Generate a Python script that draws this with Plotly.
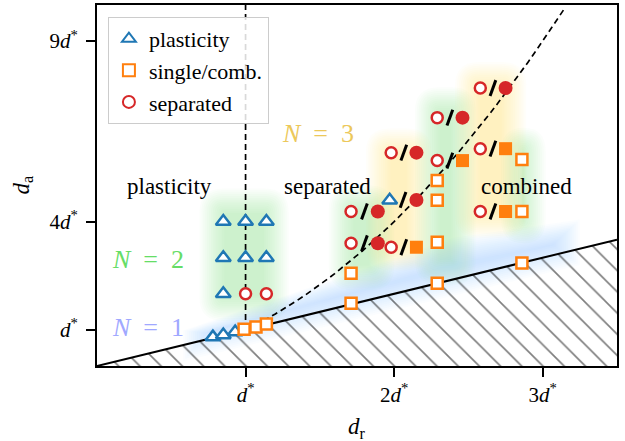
import plotly.graph_objects as go

# ---------------- data ----------------
# plasticity (open triangles)
plast_x = [0.85, 1.00, 1.14, 0.85, 1.00, 1.14, 0.85, 0.78, 0.85, 0.93, 1.97]
plast_y = [4.00, 4.00, 4.00, 3.00, 3.00, 3.00, 2.00, 0.80, 0.86, 0.94, 4.59]

# single / combined (open squares)
single_x = [0.99, 1.07, 1.14, 1.71, 1.71, 2.29, 2.29, 2.29, 2.29, 2.86, 2.86, 2.86]
single_y = [1.02, 1.08, 1.16, 2.57, 1.74, 5.14, 4.59, 3.43, 2.29, 5.72, 4.28, 2.85]

# separated (open circles)
sep_x = [1.00, 1.14, 1.71, 1.71, 1.98, 1.98, 2.29, 2.29, 2.58, 2.58, 2.58]
sep_y = [2.00, 2.00, 4.28, 3.40, 5.91, 3.29, 6.88, 5.69, 7.70, 6.02, 4.28]

# pairs "open / filled": left marker position and right (filled) marker
pair_left_x = [1.71, 1.71, 1.98, 1.97, 1.98, 2.29, 2.29, 2.58, 2.58, 2.58]
pair_right_x = [1.89, 1.89, 2.15, 2.15, 2.15, 2.46, 2.46, 2.75, 2.75, 2.75]
pair_y = [4.28, 3.40, 5.91, 4.60, 3.29, 6.88, 5.69, 7.70, 6.02, 4.28]
pair_kind = ["sep", "sep", "sep", "sep", "comb", "sep", "comb", "sep", "comb", "comb"]

# boundaries
bound_x = [0.0, 3.5]
bound_y = [0.0, 3.5]
curve_x = [1.0 + 0.05 * i for i in range(44)]  # sampling of d_a = d_r^2 boundary

x_ticks = [1, 2, 3]
x_tick_text = ["<i>d</i><sup>*</sup>", "2<i>d</i><sup>*</sup>", "3<i>d</i><sup>*</sup>"]
y_ticks = [1, 4, 9]
y_tick_text = ["<i>d</i><sup>*</sup>", "4<i>d</i><sup>*</sup>", "9<i>d</i><sup>*</sup>"]

BLUE = "#1f77b4"
ORANGE = "#ff7f0e"
RED = "#d62728"
FONT = "Liberation Serif"

# -------------- blurred regions (styling) --------------
GREEN_RGB = "120,220,120"
YEL_RGB = "255,228,110"
BLUE_RGB = "150,195,245"
blobs = [  # colour, x0, x1, y0, y1 (outer extent of the glow)
    (GREEN_RGB, 0.69, 1.29, 1.25, 4.92),
    (GREEN_RGB, 1.56, 2.00, 2.10, 5.00),
    (GREEN_RGB, 2.14, 2.55, 2.25, 7.72),
    (GREEN_RGB, 2.72, 3.02, 3.40, 6.60),
    (YEL_RGB, 1.81, 2.25, 2.65, 6.58),
    (YEL_RGB, 2.41, 2.89, 3.55, 8.42),
]

XS, YS = 148.5, 36.1  # px per data unit


def rrect(x0, x1, y0, y1, r):
    rx, ry = r / XS, r / YS
    rx = min(rx, (x1 - x0) / 2)
    ry = min(ry, (y1 - y0) / 2)
    return (f"M {x0+rx},{y0} L {x1-rx},{y0} Q {x1},{y0} {x1},{y0+ry} "
            f"L {x1},{y1-ry} Q {x1},{y1} {x1-rx},{y1} L {x0+rx},{y1} "
            f"Q {x0},{y1} {x0},{y1-ry} L {x0},{y0+ry} Q {x0},{y0} {x0+rx},{y0} Z")


shapes = []
NL = 14
STEP = 1.9
for col, x0, x1, y0, y1 in blobs:
    for k in range(NL):
        e = k * STEP  # shrink inward from outer edge
        ex, ey = e / XS, e / YS
        shapes.append(dict(type="path", path=rrect(x0 + ex, x1 - ex, y0 + ey, y1 - ey, 24 - e),
                           fillcolor=f"rgba({col},0.032)", line=dict(width=0), layer="below"))

# blue band along the lower boundary (N = 1)
for k in range(NL):
    e = k * 2.0
    ex, ey = e / XS, e / YS
    xa, xb = 0.58 + ex, 3.25 - ex
    lo, hi = -0.45 + ey, 1.15 - ey
    path = (f"M {xa},{xa+lo} L {xb},{xb+lo} L {xb},{xb+hi*0.7} "
            f"L 2.4,{2.4+hi} L 1.3,{1.3+hi*0.6} L {xa},{xa+hi*0.35} Z")
    shapes.append(dict(type="path", path=path, fillcolor=f"rgba({BLUE_RGB},0.04)",
                       line=dict(width=0), layer="below"))

fig = go.Figure()

# hatched excluded region
fig.add_trace(go.Scatter(
    x=[bound_x[0], bound_x[1], bound_x[1], bound_x[0]],
    y=[bound_y[0], bound_y[1], 0, 0],
    fill="toself", mode="lines", line=dict(width=0),
    fillpattern=dict(shape="\\", fgcolor="black", size=15, solidity=0.11),
    fillcolor="rgba(0,0,0,0)",
    showlegend=False, hoverinfo="skip"))
fig.add_trace(go.Scatter(x=bound_x, y=bound_y, mode="lines",
                         line=dict(color="black", width=2), showlegend=False))

# dashed boundaries
fig.add_trace(go.Scatter(x=[1, 1], y=[1, 10], mode="lines",
                         line=dict(color="black", width=1.7, dash="6px,4px"), showlegend=False))
fig.add_trace(go.Scatter(x=curve_x, y=[v * v for v in curve_x], mode="lines",
                         line=dict(color="black", width=1.7, dash="6px,4px"), showlegend=False))

# slashes
fig.add_trace(go.Scatter(
    x=[(a + b) / 2 for a, b in zip(pair_left_x, pair_right_x)], y=pair_y, mode="markers",
    marker=dict(symbol="line-ns", size=12, angle=20, line=dict(color="black", width=3)),
    showlegend=False, hoverinfo="skip"))

# filled markers of pairs
fx_sep = [x for x, k in zip(pair_right_x, pair_kind) if k == "sep"]
fy_sep = [y for y, k in zip(pair_y, pair_kind) if k == "sep"]
fx_comb = [x for x, k in zip(pair_right_x, pair_kind) if k == "comb"]
fy_comb = [y for y, k in zip(pair_y, pair_kind) if k == "comb"]
fig.add_trace(go.Scatter(x=fx_sep, y=fy_sep, mode="markers",
                         marker=dict(symbol="circle", size=14, color=RED), showlegend=False))
fig.add_trace(go.Scatter(x=fx_comb, y=fy_comb, mode="markers",
                         marker=dict(symbol="square", size=13, color=ORANGE), showlegend=False))

# open markers
fig.add_trace(go.Scatter(x=plast_x, y=plast_y, mode="markers", name="plasticity",
                         marker=dict(symbol="triangle-up", size=13, color="white",
                                     line=dict(color=BLUE, width=2.5))))
fig.add_trace(go.Scatter(x=single_x, y=single_y, mode="markers", name="single/comb.",
                         marker=dict(symbol="square", size=11, color="white",
                                     line=dict(color=ORANGE, width=2.5))))
fig.add_trace(go.Scatter(x=sep_x, y=sep_y, mode="markers", name="separated",
                         marker=dict(symbol="circle", size=11, color="white",
                                     line=dict(color=RED, width=2.5))))

SP = "&nbsp;&nbsp;"
annotations = [
    dict(x=0.49, y=4.97, text="plasticity", font=dict(size=23, color="black")),
    dict(x=1.55, y=4.97, text="separated", font=dict(size=23, color="black")),
    dict(x=2.89, y=4.97, text="combined", font=dict(size=23, color="black")),
    dict(x=1.49, y=6.44, text=f"<i>N</i>{SP}={SP}3", font=dict(size=26, color="#ecc85a")),
    dict(x=0.34, y=2.96, text=f"<i>N</i>{SP}={SP}2", font=dict(size=26, color="#66dd66")),
    dict(x=0.34, y=1.08, text=f"<i>N</i>{SP}={SP}1", font=dict(size=26, color="#a0a8ff")),
]
for a in annotations:
    a.update(xref="x", yref="y", showarrow=False, xanchor="center", yanchor="middle")
    a["font"]["family"] = FONT

# axis titles
annotations.append(dict(xref="paper", yref="paper", x=0.5, y=0, yshift=-62,
                        text="<i>d</i><sub>r</sub>", showarrow=False,
                        xanchor="center", yanchor="middle",
                        font=dict(family=FONT, size=23, color="black")))
annotations.append(dict(xref="paper", yref="paper", x=0, y=0.5, xshift=-75,
                        text="<i>d</i><sub>a</sub>", showarrow=False, textangle=-90,
                        xanchor="center", yanchor="middle",
                        font=dict(family=FONT, size=23, color="black")))

axis_common = dict(showgrid=False, zeroline=False, showline=True, mirror=True,
                   linecolor="black", linewidth=2, ticks="outside", ticklen=9,
                   tickwidth=1.8, tickcolor="black", automargin=False,
                   tickfont=dict(family=FONT, size=21, color="black"))

fig.update_layout(
    width=625, height=441,
    margin=dict(l=97, r=8, t=5, b=75),
    plot_bgcolor="white", paper_bgcolor="white",
    font=dict(family=FONT, size=20, color="black"),
    shapes=shapes,
    annotations=annotations,
    xaxis=dict(range=[0, 3.5], tickvals=x_ticks, ticktext=x_tick_text, **axis_common),
    yaxis=dict(range=[0, 10], tickvals=y_ticks, ticktext=y_tick_text,
               ticklabelstandoff=4, **axis_common),
    legend=dict(x=0.021, y=0.967, xanchor="left", yanchor="top",
                bgcolor="rgba(255,255,255,0.85)", bordercolor="#cccccc", borderwidth=1,
                font=dict(family=FONT, size=22), itemsizing="constant",
                tracegroupgap=0, itemwidth=30),
)

fig.write_html("out.html", config={"displayModeBar": False},
               post_script="document.body.style.margin='0';document.body.style.overflow='hidden';")
